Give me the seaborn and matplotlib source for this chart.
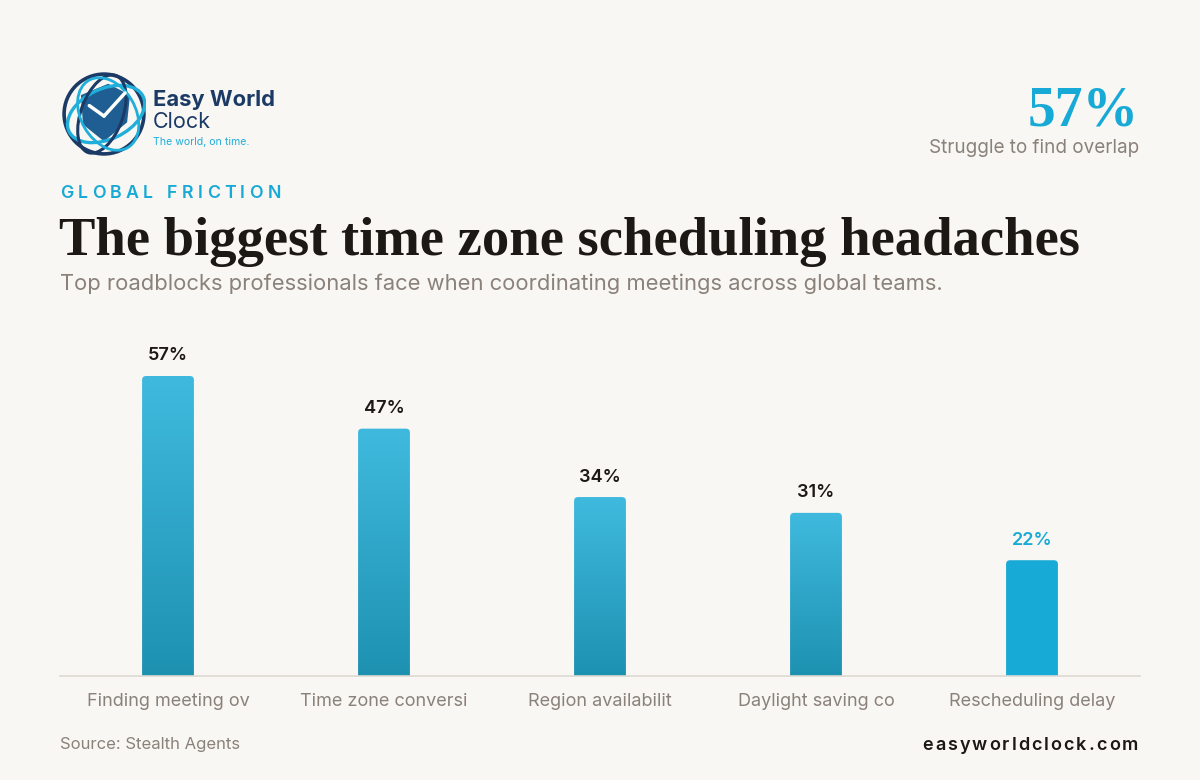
import numpy as np
import matplotlib
matplotlib.use("Agg")
import matplotlib.pyplot as plt
import seaborn as sns
from matplotlib.patches import FancyBboxPatch, Ellipse, Polygon
from matplotlib.colors import LinearSegmentedColormap

categories = ["Finding meeting ov", "Time zone conversi", "Region availabilit",
              "Daylight saving co", "Rescheduling delay"]
values = [57, 47, 34, 31, 22]
value_labels = ["57%", "47%", "34%", "31%", "22%"]

BG = "#F9F7F3"
GRAY = "#8A817A"
DARK = "#1C1915"
BLUE = "#18AAD6"
NAVY = "#1B3A66"

sns.set_theme(style="white")
plt.rcParams["font.family"] = ["Inter", "DejaVu Sans"]

W, H = 1200, 780
fig = plt.figure(figsize=(12, 7.8), dpi=100, facecolor=BG)

def fy(y):
    return 1 - y / H

def fx(x):
    return x / W

ax = fig.add_axes([fx(60), fy(676), fx(1140) - fx(60), 350 / H])
ax.set_facecolor(BG)
sns.barplot(x=categories, y=values, ax=ax, width=0.24, color=BLUE, saturation=1)
ax.set_ylim(0, 66.5)
ax.set_xlim(-0.5, 4.5)

cmap = LinearSegmentedColormap.from_list("g", ["#1E91B1", "#3FBADE"])
for i, p in enumerate(list(ax.patches)):
    x0 = p.get_x(); w = p.get_width(); h = p.get_height()
    p.set_visible(False)
    rs = 4 / 216
    aspect = (4 / 5.263) / rs
    box = FancyBboxPatch((x0, -3), w, h + 3,
                         boxstyle=f"round,pad=0,rounding_size={rs}",
                         mutation_aspect=aspect, linewidth=0,
                         facecolor=BLUE if i == 4 else "none")
    ax.add_patch(box)
    if i != 4:
        grad = np.linspace(0, 1, 256).reshape(-1, 1)
        im = ax.imshow(grad, cmap=cmap, origin="lower", aspect="auto",
                       extent=[x0, x0 + w, 0, h], zorder=2)
        im.set_clip_path(box)
    ax.text(x0 + w / 2, h + 20 / 5.263, value_labels[i], ha="center", va="center",
            fontsize=13, fontweight="semibold",
            color=BLUE if i == 4 else DARK)
ax.set_xlim(-0.5, 4.5)
ax.set_ylim(0, 66.5)

for s in ["top", "right", "left"]:
    ax.spines[s].set_visible(False)
ax.spines["bottom"].set_color("#DDD9D3")
ax.spines["bottom"].set_linewidth(1.2)
ax.set_yticks([])
ax.tick_params(axis="x", length=0, pad=12, labelsize=13, labelcolor=GRAY)
ax.set_xlabel(""); ax.set_ylabel("")

renderer = fig.canvas.get_renderer()

def spaced(x, y, s, gap, ha="left", **kw):
    widths = []
    for ch in s:
        t = fig.text(0, 0, ch if ch != " " else "a", **kw)
        widths.append(t.get_window_extent(renderer).width * (0.55 if ch == " " else 1))
        t.remove()
    total = sum(widths) + gap * (len(s) - 1)
    cx = x if ha == "left" else x - total
    for ch, wd in zip(s, widths):
        if ch != " ":
            fig.text(fx(cx), fy(y), ch, ha="left", va="center", **kw)
        cx += wd + gap

# Header
spaced(60, 194, "GLOBAL FRICTION", 4.3, fontsize=12.8, fontweight="semibold", color=BLUE)
fig.text(fx(59), fy(242), "The biggest time zone scheduling headaches", ha="left", va="center",
         fontsize=39.3, fontweight="bold", color=DARK, family=["Liberation Serif"])
fig.text(fx(60), fy(284), "Top roadblocks professionals face when coordinating meetings across global teams.",
         ha="left", va="center", fontsize=15.8, color=GRAY)

# KPI top right
fig.text(fx(1139), fy(111), "57%", ha="right", va="center", fontsize=40, fontweight="bold",
         color=BLUE, family=["Liberation Serif"])
fig.text(fx(1139), fy(148), "Struggle to find overlap", ha="right", va="center", fontsize=13.6, color=GRAY)

# Footer
fig.text(fx(60), fy(745), "Source: Stealth Agents", ha="left", va="center", fontsize=12, color=GRAY)
spaced(1138, 745, "easyworldclock.com", 2.0, ha="right", fontsize=13, fontweight="semibold", color=DARK)

# Logo
lax = fig.add_axes([fx(62), fy(156), 84 / W, 84 / H])
lax.set_xlim(-1, 1); lax.set_ylim(-1, 1); lax.set_aspect("equal"); lax.axis("off")
lax.add_patch(Polygon([[-0.55, 0.45], [0.1, 0.72], [0.62, 0.45], [0.55, -0.2], [0.0, -0.65], [-0.5, -0.25]],
                      closed=True, facecolor="#1F5E92", edgecolor="none", zorder=1))
lax.add_patch(Ellipse((0, 0), 1.9, 1.9, fill=False, edgecolor="#1B3A66", lw=2.6, zorder=2))
lax.add_patch(Ellipse((0.05, 0), 1.95, 1.2, angle=25, fill=False, edgecolor="#20AEDB", lw=2.4, zorder=3))
lax.add_patch(Ellipse((-0.05, 0.0), 1.0, 1.95, angle=-20, fill=False, edgecolor="#1B3A66", lw=2.2, zorder=3))
lax.add_patch(Ellipse((0.1, 0.0), 1.3, 1.85, angle=30, fill=False, edgecolor="#20AEDB", lw=2.0, zorder=3))
lax.plot([0.0, -0.35], [-0.05, 0.2], color="white", lw=2.5, solid_capstyle="round", zorder=4)
lax.plot([0.0, 0.5], [-0.05, 0.5], color="white", lw=2.5, solid_capstyle="round", zorder=4)

fig.text(fx(153), fy(100), "Easy World", ha="left", va="center", fontsize=15.8, fontweight="bold", color=NAVY)
fig.text(fx(153), fy(122), "Clock", ha="left", va="center", fontsize=15.5, color=NAVY)
fig.text(fx(153), fy(142), "The world, on time.", ha="left", va="center", fontsize=7.6, color="#20AEDB")

fig.savefig("out.png", dpi=100, facecolor=BG)
